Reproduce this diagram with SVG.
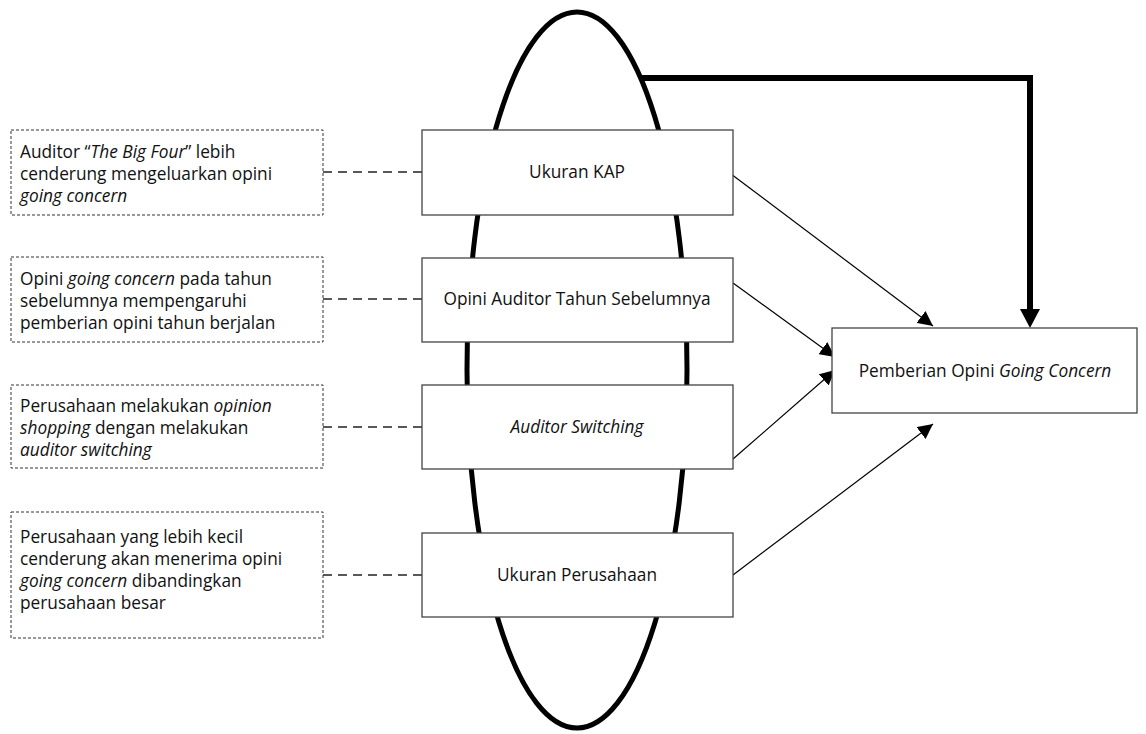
<svg xmlns="http://www.w3.org/2000/svg" width="1146" height="734" viewBox="0 0 1146 734">
<defs>
<style>
.t{font-family:"Open Sans","Liberation Sans",sans-serif;font-size:17.3px;fill:#111}
.note{fill:#fff;stroke:#333;stroke-width:1;stroke-dasharray:3 2}
.box{fill:#fff;stroke:#444;stroke-width:1.3}
.dash{stroke:#222;stroke-width:1.3;stroke-dasharray:9 6;fill:none}
.arr{stroke:#000;stroke-width:1.2;fill:none;marker-end:url(#ah)}
</style>
<marker id="ah" viewBox="0 0 10 10" refX="10" refY="5" markerWidth="15" markerHeight="15" markerUnits="userSpaceOnUse" orient="auto"><path d="M0,0 L10,5 L0,10 z" fill="#000"/></marker>
</defs>
<rect width="1146" height="734" fill="#fff"/>
<g id="ellipse"><ellipse cx="577" cy="370" rx="110" ry="358" fill="none" stroke="#000" stroke-width="5"/></g>
<g id="connectors">
<path d="M641,78 H1030 V312" stroke="#000" stroke-width="6" fill="none"/>
<path d="M1020,309 L1040,309 L1030,328 z" fill="#000"/>
<line class="dash" x1="323" y1="172" x2="422" y2="172"/>
<line class="dash" x1="323" y1="299" x2="422" y2="299"/>
<line class="dash" x1="323" y1="427" x2="422" y2="427"/>
<line class="dash" x1="323" y1="575" x2="422" y2="575"/>
<line class="arr" x1="731" y1="174" x2="933" y2="326"/>
<line class="arr" x1="733" y1="283" x2="835" y2="357"/>
<line class="arr" x1="733" y1="459" x2="835" y2="370"/>
<line class="arr" x1="733" y1="575" x2="933" y2="424"/>
</g>
<g id="note1"><rect class="note" x="11" y="130" width="312" height="85"/>
<text class="t" x="20" y="158">Auditor “<tspan font-style="italic">The Big Four</tspan>” lebih</text>
<text class="t" x="20" y="180">cenderung mengeluarkan opini</text>
<text class="t" x="20" y="202" font-style="italic">going concern</text></g>
<g id="note2"><rect class="note" x="11" y="257" width="312" height="85"/>
<text class="t" x="20" y="285">Opini <tspan font-style="italic">going concern</tspan> pada tahun</text>
<text class="t" x="20" y="307">sebelumnya mempengaruhi</text>
<text class="t" x="20" y="329">pemberian opini tahun berjalan</text></g>
<g id="note3"><rect class="note" x="11" y="385" width="312" height="83"/>
<text class="t" x="20" y="412">Perusahaan melakukan <tspan font-style="italic">opinion</tspan></text>
<text class="t" x="20" y="434"><tspan font-style="italic">shopping</tspan> dengan melakukan</text>
<text class="t" x="20" y="456" font-style="italic">auditor switching</text></g>
<g id="note4"><rect class="note" x="11" y="512" width="312" height="126"/>
<text class="t" x="20" y="543">Perusahaan yang lebih kecil</text>
<text class="t" x="20" y="565">cenderung akan menerima opini</text>
<text class="t" x="20" y="587"><tspan font-style="italic">going concern</tspan> dibandingkan</text>
<text class="t" x="20" y="609">perusahaan besar</text></g>
<g id="kap"><rect class="box" x="422" y="130" width="311" height="85"/>
<text class="t" x="577" y="178" text-anchor="middle">Ukuran KAP</text></g>
<g id="opini"><rect class="box" x="422" y="258" width="311" height="84"/>
<text class="t" x="577" y="305" text-anchor="middle">Opini Auditor Tahun Sebelumnya</text></g>
<g id="switching"><rect class="box" x="422" y="385" width="311" height="84"/>
<text class="t" x="577" y="433" text-anchor="middle" font-style="italic">Auditor Switching</text></g>
<g id="ukuran"><rect class="box" x="422" y="533" width="311" height="84"/>
<text class="t" x="577" y="581" text-anchor="middle">Ukuran Perusahaan</text></g>
<g id="pemberian"><rect class="box" x="832" y="328" width="305" height="85"/>
<text class="t" x="985" y="377" text-anchor="middle">Pemberian Opini <tspan font-style="italic">Going Concern</tspan></text></g>
</svg>
